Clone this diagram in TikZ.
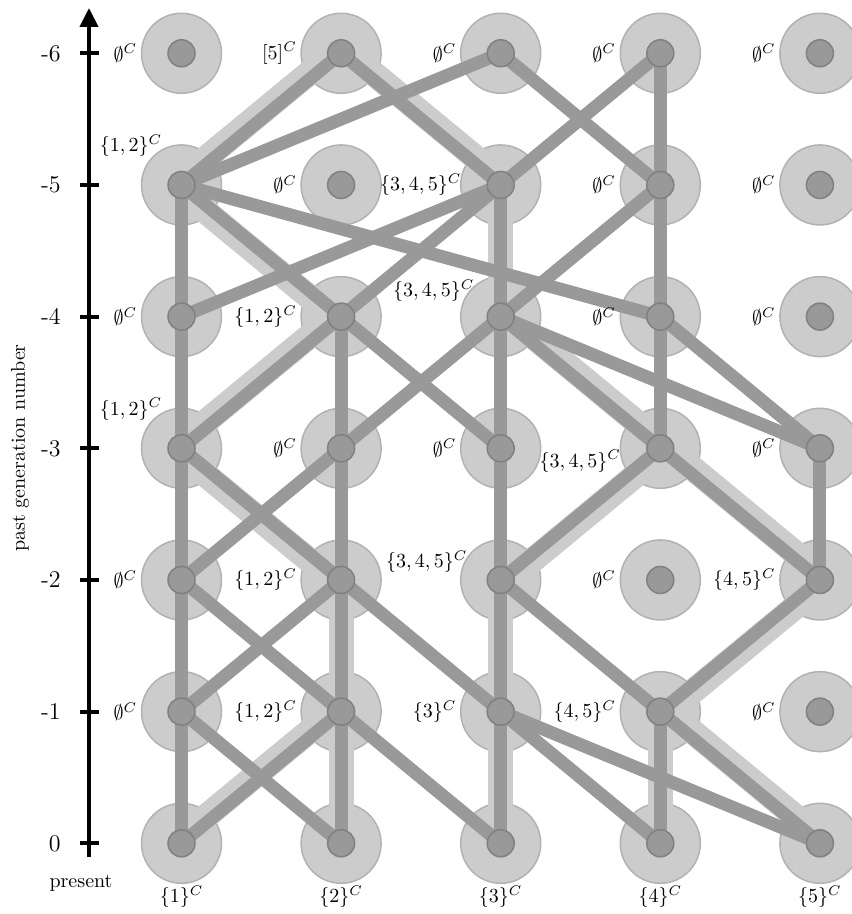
\documentclass[tikz,border=0pt]{standalone}
\usetikzlibrary{arrows.meta}
\begin{document}
\begin{tikzpicture}[x=0.5pt,y=-0.5pt,
  bigc/.style={circle, minimum size=40pt, inner sep=0pt, fill=black!20, draw=black!30, line width=0.75pt},
  smallc/.style={circle, minimum size=13.5pt, inner sep=0pt, fill=black!40, draw=black!50, line width=0.75pt},
  dk/.style={draw=black!40, line width=6.5pt},
  band/.style={draw=black!20, line width=12.5pt},
  lab/.style={inner sep=0pt, anchor=east},
  ax/.style={line width=2pt, black}]
\useasboundingbox (0,0) rectangle (851,914);
% big circles
\foreach \c/\x in {1/181.5,2/341.1,3/500.7,4/660.3,5/819.9}{
  \foreach \r in {0,...,6}{
    \node[bigc] (b-\c-\r) at (\x,{843.3-131.67*\r}) {};
  }
}
% lineage bands
\foreach \a/\b/\s in {2-6/1-5/-4, 1-5/2-4/-4, 2-4/1-3/-4, 1-3/2-2/-4, 2-2/2-1/0, 2-1/1-0/-4, 2-1/2-0/0,
  2-6/3-5/4, 3-5/3-4/0, 3-4/4-3/4, 4-3/3-2/4, 4-3/5-2/4, 3-2/3-1/0, 3-1/3-0/0, 5-2/4-1/4, 4-1/4-0/0, 4-1/5-0/4}{
  \draw[band] ([xshift=\s pt]b-\a.center) -- ([xshift=\s pt]b-\b.center);
}
% edges
\foreach \a/\b in {2-6/1-5, 2-6/3-5, 3-6/1-5, 3-6/4-5, 4-6/3-5, 4-6/4-5,
  1-5/1-4, 1-5/2-4, 1-5/4-4, 3-5/1-4, 3-5/2-4, 3-5/3-4, 4-5/4-4, 4-5/3-4,
  1-4/1-3, 2-4/1-3, 2-4/2-3, 2-4/3-3, 3-4/2-3, 3-4/3-3, 3-4/4-3, 3-4/5-3, 4-4/4-3, 4-4/5-3,
  1-3/1-2, 1-3/2-2, 2-3/1-2, 2-3/2-2, 3-3/3-2, 4-3/3-2, 4-3/5-2, 5-3/5-2,
  1-2/1-1, 1-2/2-1, 2-2/1-1, 2-2/2-1, 2-2/3-1, 3-2/3-1, 3-2/4-1, 5-2/4-1,
  1-1/1-0, 1-1/2-0, 2-1/1-0, 2-1/2-0, 2-1/3-0, 3-1/3-0, 3-1/4-0, 3-1/5-0, 4-1/4-0, 4-1/5-0}{
  \draw[dk] (b-\a.center) -- (b-\b.center);
}
% small circles
\foreach \c in {1,...,5}{
  \foreach \r in {0,...,6}{
    \node[smallc] (s-\c-\r) at (b-\c-\r.center) {};
  }
}
% axis
\coordinate (axbot) at (89,857);
\coordinate (axtop) at (89,8);
\draw[ax, -{Triangle[length=9.5pt,width=9pt]}] (axbot) -- (axtop);
\foreach \r/\t in {0/0,1/-1,2/-2,3/-3,4/-4,5/-5,6/-6}{
  \draw[ax] (80,{843.3-131.67*\r}) -- (99,{843.3-131.67*\r});
  \node[lab, font=\large] (t\r) at (61,{843.3-131.67*\r}) {\t};
}
\node[rotate=90, inner sep=0pt] (ylab) at (20,448) {past generation number};
\node[inner sep=0pt] (pres) at (81,883) {present};
% labels row -6
\node[lab] (l-1-6) at ([xshift=-22pt]b-1-6.center) {$\emptyset^C$};
\node[lab] (l-2-6) at ([xshift=-22pt]b-2-6.center) {$[5]^C$};
\node[lab] (l-3-6) at ([xshift=-22pt]b-3-6.center) {$\emptyset^C$};
\node[lab] (l-4-6) at ([xshift=-22pt]b-4-6.center) {$\emptyset^C$};
\node[lab] (l-5-6) at ([xshift=-22pt]b-5-6.center) {$\emptyset^C$};
% row -5
\node[lab] (l-1-5) at ([xshift=-9.5pt,yshift=19.5pt]b-1-5.center) {$\{1,2\}^C$};
\node[lab] (l-2-5) at ([xshift=-22pt]b-2-5.center) {$\emptyset^C$};
\node[lab] (l-3-5) at ([xshift=-19.5pt]b-3-5.center) {$\{3,4,5\}^C$};
\node[lab] (l-4-5) at ([xshift=-22pt]b-4-5.center) {$\emptyset^C$};
\node[lab] (l-5-5) at ([xshift=-22pt]b-5-5.center) {$\emptyset^C$};
% row -4
\node[lab] (l-1-4) at ([xshift=-22pt]b-1-4.center) {$\emptyset^C$};
\node[lab] (l-2-4) at ([xshift=-22pt]b-2-4.center) {$\{1,2\}^C$};
\node[lab] (l-3-4) at ([xshift=-13pt,yshift=13pt]b-3-4.center) {$\{3,4,5\}^C$};
\node[lab] (l-4-4) at ([xshift=-22pt]b-4-4.center) {$\emptyset^C$};
\node[lab] (l-5-4) at ([xshift=-22pt]b-5-4.center) {$\emptyset^C$};
% row -3
\node[lab] (l-1-3) at ([xshift=-9.5pt,yshift=19.5pt]b-1-3.center) {$\{1,2\}^C$};
\node[lab] (l-2-3) at ([xshift=-22pt]b-2-3.center) {$\emptyset^C$};
\node[lab] (l-3-3) at ([xshift=-22pt]b-3-3.center) {$\emptyset^C$};
\node[lab] (l-4-3) at ([xshift=-19.5pt,yshift=-6.5pt]b-4-3.center) {$\{3,4,5\}^C$};
\node[lab] (l-5-3) at ([xshift=-22pt]b-5-3.center) {$\emptyset^C$};
% row -2
\node[lab] (l-1-2) at ([xshift=-22pt]b-1-2.center) {$\emptyset^C$};
\node[lab] (l-2-2) at ([xshift=-22pt]b-2-2.center) {$\{1,2\}^C$};
\node[lab] (l-3-2) at ([xshift=-16.5pt,yshift=9pt]b-3-2.center) {$\{3,4,5\}^C$};
\node[lab] (l-4-2) at ([xshift=-22pt]b-4-2.center) {$\emptyset^C$};
\node[lab] (l-5-2) at ([xshift=-22pt]b-5-2.center) {$\{4,5\}^C$};
% row -1
\node[lab] (l-1-1) at ([xshift=-22pt]b-1-1.center) {$\emptyset^C$};
\node[lab] (l-2-1) at ([xshift=-22pt]b-2-1.center) {$\{1,2\}^C$};
\node[lab] (l-3-1) at ([xshift=-22pt]b-3-1.center) {$\{3\}^C$};
\node[lab] (l-4-1) at ([xshift=-22pt]b-4-1.center) {$\{4,5\}^C$};
\node[lab] (l-5-1) at ([xshift=-22pt]b-5-1.center) {$\emptyset^C$};
% row 0
\foreach \c in {1,...,5}{
  \node[inner sep=0pt] (l-\c-0) at ([yshift=-26.8pt]b-\c-0.center) {$\{\c\}^C$};
}
\end{tikzpicture}
\end{document}
